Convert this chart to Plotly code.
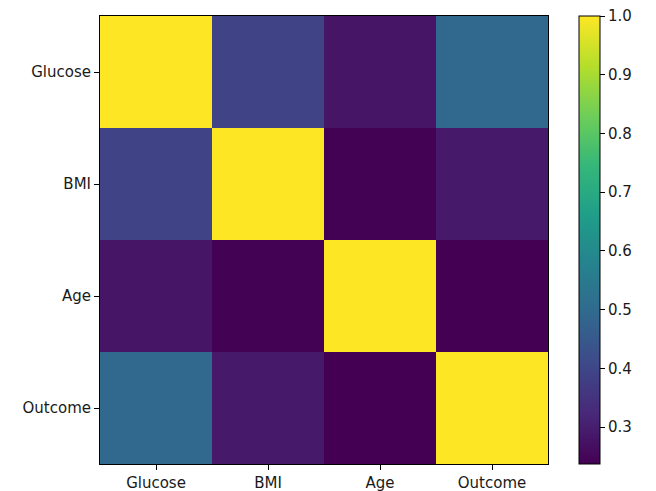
import plotly.graph_objects as go

labels = ["Glucose", "BMI", "Age", "Outcome"]
row_glucose = [1.0, 0.39, 0.28, 0.49]
row_bmi = [0.39, 1.0, 0.24, 0.29]
row_age = [0.28, 0.24, 1.0, 0.237]
row_outcome = [0.49, 0.29, 0.237, 1.0]
cbar_ticks = [0.3, 0.4, 0.5, 0.6, 0.7, 0.8, 0.9, 1.0]

z = [row_glucose, row_bmi, row_age, row_outcome]
zmin = min(min(r) for r in z)
zmax = max(max(r) for r in z)

font = dict(family="DejaVu Sans", size=15, color="#1a1a1a")

fig = go.Figure(go.Heatmap(
    z=z, x=labels, y=labels, colorscale="Viridis", zmin=zmin, zmax=zmax,
    xgap=0, ygap=0,
    colorbar=dict(
        x=(571 - 92) / 448, xanchor="left", thickness=21, xpad=0, ypad=0,
        len=1, lenmode="fraction", y=0.5, yanchor="middle",
        outlinewidth=1, outlinecolor="black",
        tickvals=cbar_ticks, tickformat=".1f", ticks="outside",
        ticklen=5, tickcolor="black", tickfont=font,
        ticklabeloverflow="allow",
    ),
))

axis_common = dict(showline=True, linecolor="black", linewidth=1, mirror=True,
                   ticks="outside", ticklen=5, tickcolor="black", tickfont=font,
                   showgrid=False, zeroline=False)
fig.update_xaxes(**axis_common)
fig.update_yaxes(autorange="reversed", **axis_common)

fig.update_layout(
    width=648, height=483,
    margin=dict(l=92, r=108, t=8, b=27, autoexpand=False),
    paper_bgcolor="white", plot_bgcolor="white",
    font=font,
)
fig.write_html("out.html")
